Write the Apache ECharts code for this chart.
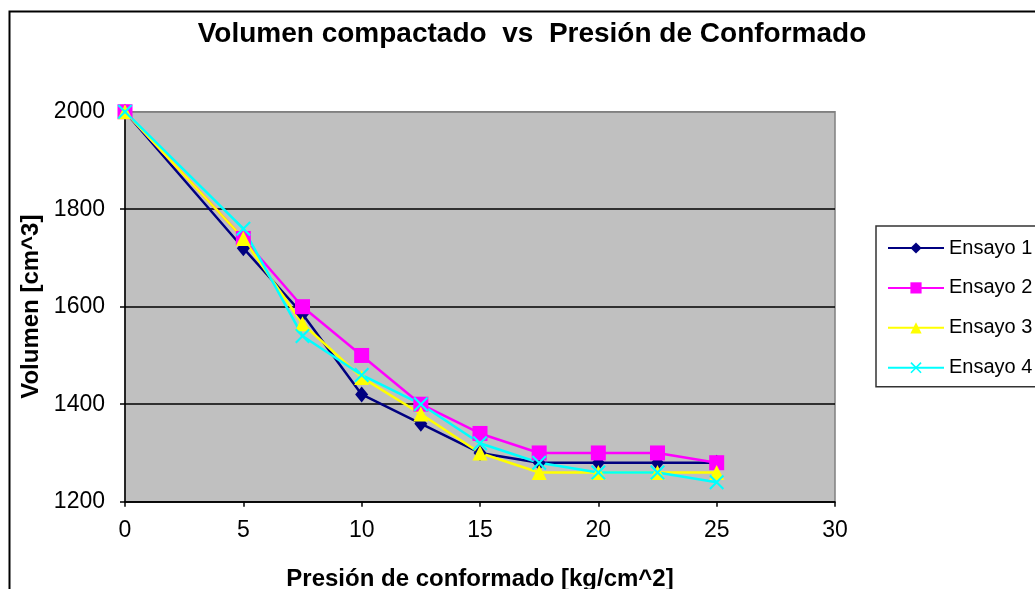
<!DOCTYPE html>
<html>
<head>
<meta charset="utf-8">
<script src="https://cdn.jsdelivr.net/npm/echarts@6/dist/echarts.min.js"></script>
<style>
  html, body { margin: 0; padding: 0; background: #ffffff; }
  #chart { width: 1035px; height: 589px; }
</style>
</head>
<body>
<div id="chart"></div>
<script>
// Pressure steps (kg/cm^2) and measured volume (cm^3) per trial
const pressure = [0, 5, 7.5, 10, 12.5, 15, 17.5, 20, 22.5, 25];
const ensayo1 = [2000, 1720, 1585, 1420, 1360, 1300, 1280, 1280, 1280, 1280];
const ensayo2 = [2000, 1740, 1600, 1500, 1400, 1340, 1300, 1300, 1300, 1280];
const ensayo3 = [2000, 1740, 1565, 1455, 1380, 1300, 1260, 1260, 1260, 1260];
const ensayo4 = [2000, 1760, 1540, 1460, 1400, 1320, 1280, 1260, 1260, 1240];
const seriesNames = ['Ensayo 1', 'Ensayo 2', 'Ensayo 3', 'Ensayo 4'];

const FONT = '"Liberation Sans", Arial, sans-serif';
const crossSymbol = 'path://M0,1 L1,0 L5,4 L9,0 L10,1 L6,5 L10,9 L9,10 L5,6 L1,10 L0,9 L4,5 Z';

function pairs(values) {
  return pressure.map((p, i) => [p, values[i]]);
}

function lineSeries(name, values, color, symbol, size) {
  return {
    name: name,
    type: 'line',
    data: pairs(values),
    symbol: symbol,
    symbolSize: size,
    showAllSymbol: true,
    lineStyle: { color: color, width: 2.5 },
    itemStyle: { color: color, borderWidth: 0 },
    emphasis: { disabled: true },
    animation: false
  };
}

const chart = echarts.init(document.getElementById('chart'), null, { renderer: 'canvas' });

chart.setOption({
  backgroundColor: '#ffffff',
  animation: false,
  title: {
    text: 'Volumen compactado  vs  Presión de Conformado',
    left: 527,
    top: 15,
    textAlign: 'center',
    textStyle: { fontFamily: FONT, fontWeight: 'bold', fontSize: 28, color: '#000000' }
  },
  legend: {
    orient: 'vertical',
    left: 876,
    top: 226,
    padding: [12, 80, 9, 11],
    itemWidth: 56,
    itemHeight: 14,
    itemGap: 19.9,
    borderColor: '#333333',
    borderWidth: 1.5,
    backgroundColor: '#ffffff',
    textStyle: { fontFamily: FONT, fontSize: 20, color: '#000000' },
    data: seriesNames
  },
  grid: {
    left: 125,
    right: 200,
    top: 111.7,
    bottom: 87.3,
    containLabel: false,
    outerBoundsMode: 'none',
    show: true,
    backgroundColor: '#C0C0C0',
    borderColor: '#808080',
    borderWidth: 1.5
  },
  xAxis: {
    type: 'value',
    min: 0,
    max: 30,
    interval: 5,
    name: 'Presión de conformado [kg/cm^2]',
    nameLocation: 'middle',
    nameGap: 66,
    nameTextStyle: { fontFamily: FONT, fontWeight: 'bold', fontSize: 24, color: '#000000' },
    axisLine: { show: true, lineStyle: { color: '#000000', width: 1.5 } },
    axisTick: { show: true, inside: false, length: 5, lineStyle: { color: '#000000', width: 1.5 } },
    axisLabel: { fontFamily: FONT, fontSize: 23, color: '#000000', margin: 17 },
    splitLine: { show: false }
  },
  yAxis: {
    type: 'value',
    min: 1200,
    max: 2000,
    interval: 200,
    name: 'Volumen [cm^3]',
    nameLocation: 'middle',
    nameGap: 67,
    nameRotate: 90,
    nameTextStyle: { fontFamily: FONT, fontWeight: 'bold', fontSize: 24, color: '#000000' },
    axisLine: { show: true, lineStyle: { color: '#000000', width: 1.5 } },
    axisTick: { show: true, inside: false, length: 5, lineStyle: { color: '#000000', width: 1.5 } },
    axisLabel: {
      fontFamily: FONT, fontSize: 23, color: '#000000', margin: 20,
      formatter: (v) => String(v)
    },
    splitLine: {
      show: true,
      lineStyle: { color: ['#000000', '#000000', '#000000', '#000000', '#808080'], width: 1.5 }
    }
  },
  graphic: [
    {
      type: 'rect',
      silent: true,
      z: -1,
      shape: { x: 9.5, y: 11.5, width: 1100, height: 700 },
      style: { fill: null, stroke: '#000000', lineWidth: 2 }
    }
  ],
  series: [
    lineSeries(seriesNames[0], ensayo1, '#000080', 'diamond', [13, 16]),
    lineSeries(seriesNames[1], ensayo2, '#FF00FF', 'rect', 15),
    lineSeries(seriesNames[2], ensayo3, '#FFFF00', 'triangle', 15),
    lineSeries(seriesNames[3], ensayo4, '#00FFFF', crossSymbol, 15)
  ]
});
</script>
</body>
</html>
